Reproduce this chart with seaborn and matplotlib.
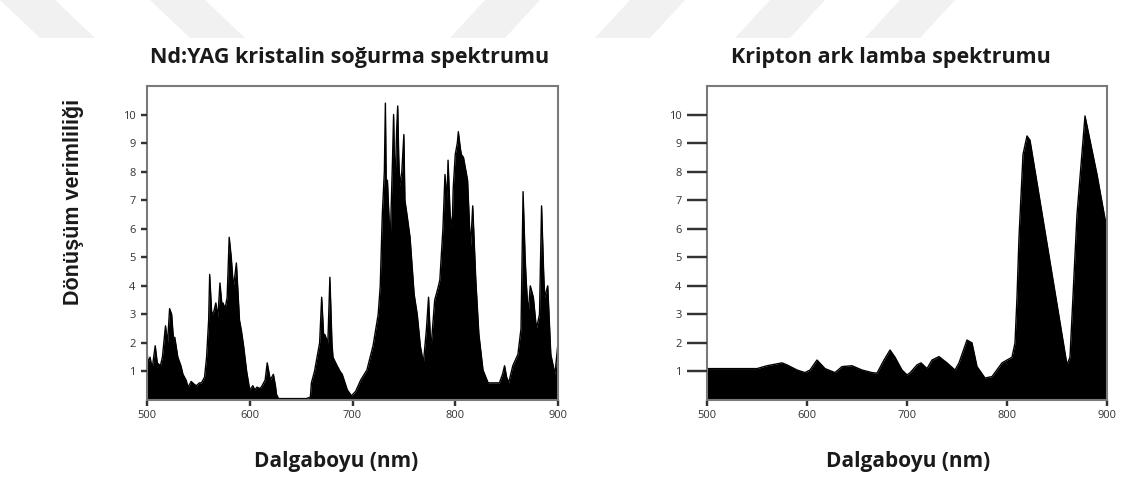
import matplotlib
matplotlib.use("Agg")
import matplotlib.pyplot as plt
from matplotlib.patches import Polygon
from matplotlib.lines import Line2D
from matplotlib.transforms import blended_transform_factory
import seaborn as sns
import pandas as pd

# ---- data: Nd:YAG absorption spectrum ----
nd_wavelength = [500, 501, 503, 505, 508, 510, 513, 515, 518, 520, 522, 524, 526, 527, 530, 533, 535, 538,
                 540, 543, 546, 548, 551, 553, 556, 558, 560, 561, 563, 565, 567, 569, 571, 573, 574, 576,
                 578, 580, 582, 584, 585, 587, 589, 590, 592, 594, 597, 600, 603, 605, 607, 610, 612, 615,
                 617, 619, 620, 623, 625, 626, 628, 640, 655, 659, 660, 663, 665, 668, 670, 672, 673, 676,
                 678, 680, 681, 685, 688, 690, 695, 699, 703, 708, 714, 720, 725, 727, 729, 731, 732, 733,
                 734, 736, 737, 739, 740, 741, 742, 743, 744, 745, 746, 748, 750, 751, 753, 756, 760, 763,
                 766, 769, 772, 774, 776, 777, 780, 783, 785, 788, 790, 792, 793, 795, 797, 798, 800, 802,
                 803, 805, 806, 808, 809, 812, 814, 815, 817, 820, 823, 827, 832, 837, 843, 846, 848, 850,
                 852, 856, 861, 864, 866, 868, 869, 871, 873, 876, 879, 882, 884, 886, 887, 890, 893, 897, 900]
nd_value = [1.7, 1.3, 1.5, 1.1, 1.9, 1.3, 1.2, 1.5, 2.6, 2.0, 3.2, 3.0, 2.0, 2.2, 1.5, 1.2, 0.9, 0.7,
            0.45, 0.65, 0.55, 0.5, 0.6, 0.6, 0.8, 1.5, 2.8, 4.4, 3.0, 3.1, 3.4, 2.9, 4.1, 3.3, 3.4, 3.2,
            3.6, 5.7, 5.0, 4.0, 4.2, 4.8, 3.5, 2.8, 2.4, 1.9, 1.0, 0.35, 0.5, 0.35, 0.45, 0.4, 0.5, 0.7,
            1.3, 0.9, 0.7, 0.9, 0.5, 0.2, 0.05, 0.05, 0.05, 0.1, 0.6, 1.0, 1.4, 2.0, 3.6, 2.2, 2.3, 2.0,
            4.3, 2.0, 1.5, 1.2, 1.0, 0.9, 0.35, 0.15, 0.3, 0.7, 1.05, 1.9, 3.0, 4.0, 6.5, 8.0, 10.4, 7.0,
            7.7, 6.0, 5.9, 8.5, 10.0, 8.0, 8.2, 9.5, 10.3, 8.5, 7.5, 8.0, 9.3, 7.0, 6.5, 5.7, 3.7, 3.0,
            1.9, 1.3, 2.5, 3.6, 2.0, 2.1, 3.5, 3.9, 4.2, 6.0, 7.9, 7.0, 8.4, 6.5, 6.0, 7.4, 8.6, 9.0,
            9.4, 8.8, 8.6, 8.5, 8.3, 7.7, 6.0, 5.4, 6.8, 4.2, 2.3, 1.05, 0.6, 0.6, 0.6, 0.9, 1.2, 0.8,
            0.6, 1.2, 1.6, 2.5, 7.3, 5.0, 4.2, 3.0, 4.0, 3.6, 2.5, 3.0, 6.8, 4.5, 3.6, 4.0, 1.6, 0.9, 2.0]

# ---- data: krypton arc lamp spectrum ----
kr_wavelength = [500, 550, 560, 575, 580, 590, 598, 603, 610, 618, 628, 635, 645, 655, 665, 670, 677, 683,
                 688, 695, 700, 703, 710, 714, 720, 725, 732, 740, 748, 752, 760, 765, 770, 778, 785, 795,
                 805, 808, 810, 812, 816, 820, 823, 860, 863, 870, 878, 890, 898, 900]
kr_value = [1.1, 1.1, 1.2, 1.3, 1.23, 1.05, 0.96, 1.05, 1.4, 1.1, 0.96, 1.17, 1.2, 1.05, 0.96, 0.94, 1.4, 1.75,
            1.5, 1.05, 0.88, 0.95, 1.23, 1.3, 1.1, 1.4, 1.52, 1.3, 1.05, 1.3, 2.1, 2.0, 1.17, 0.77, 0.82, 1.3,
            1.5, 2.0, 3.6, 5.7, 8.6, 9.25, 9.1, 1.23, 1.5, 6.5, 9.95, 7.9, 6.35, 6.2]

titles = ["Nd:YAG kristalin soğurma spektrumu", "Kripton ark lamba spektrumu"]
xlabel = "Dalgaboyu (nm)"
ylabel = "Dönüşüm verimliliği"
x_ticks = [500, 600, 700, 800, 900]
y_ticks = [1, 2, 3, 4, 5, 6, 7, 8, 9, 10]

sns.set_theme(style="ticks")
plt.rcParams['font.family'] = ['Open Sans', 'DejaVu Sans']

W, H = 1134, 482
fig = plt.figure(figsize=(W / 100, H / 100), dpi=100)

def px_axes(l, t, r, b):
    return fig.add_axes([l / W, 1 - b / H, (r - l) / W, (b - t) / H])

# faint watermark bands at the top (figure decoration)
wm_color = "#f1f1f1"
for pts in [[(0, 0), (55, 0), (95, 38), (40, 38)],
            [(150, 0), (205, 0), (245, 38), (190, 38)],
            [(485, 0), (540, 0), (505, 38), (450, 38)],
            [(630, 0), (685, 0), (650, 38), (595, 38)],
            [(770, 0), (825, 0), (790, 38), (735, 38)],
            [(900, 0), (955, 0), (920, 38), (865, 38)]]:
    poly = [(x / W, 1 - y / H) for x, y in pts]
    fig.add_artist(Polygon(poly, closed=True, transform=fig.transFigure,
                           facecolor=wm_color, edgecolor="none", zorder=-1))

# axes boxes in pixels: (left, top, right, bottom)
boxes = [(147, 86, 558, 400), (707, 86, 1107, 400)]
ax1 = px_axes(*boxes[0])
ax2 = px_axes(*boxes[1])

df_nd = pd.DataFrame({"wl": nd_wavelength, "v": nd_value})
df_kr = pd.DataFrame({"wl": kr_wavelength, "v": kr_value})

tick_col = "#333333"
for ax, df, ylen_px, box in [(ax1, df_nd, 6, boxes[0]), (ax2, df_kr, 20, boxes[1])]:
    ax.fill_between(df["wl"], 0, df["v"], color="black", linewidth=0)
    sns.lineplot(data=df, x="wl", y="v", ax=ax, color="black", linewidth=1.0, estimator=None)
    ax.set_xlim(500, 900)
    ax.set_ylim(0, 11)
    ax.set_xticks(x_ticks)
    ax.set_yticks(y_ticks)
    ax.set_xlabel("")
    ax.set_ylabel("")
    for s in ax.spines.values():
        s.set_visible(True)
        s.set_color("#7a7a7a")
        s.set_linewidth(1.5)
    ax.tick_params(axis="y", direction="out", length=ylen_px / 1.389, width=1.6, color=tick_col,
                   labelsize=8, labelcolor="#333333", pad=4, left=True, right=False)
    ax.tick_params(axis="x", direction="out", length=4, width=1.6, color=tick_col,
                   labelsize=8, labelcolor="#333333", pad=3, bottom=True, top=False)
    # tick marks also drawn at figure level, positioned by the axes' data scale
    left, top, right, bottom = box
    ytr = blended_transform_factory(fig.transFigure, ax.transData)
    for yv in y_ticks:
        fig.add_artist(Line2D([(left - ylen_px) / W, (left - 0.5) / W], [yv, yv], transform=ytr,
                              color=tick_col, linewidth=1.6, zorder=10, solid_capstyle="butt"))
    xtr = blended_transform_factory(ax.transData, fig.transFigure)
    for xv in x_ticks:
        fig.add_artist(Line2D([xv, xv], [1 - (bottom + 5.5) / H, 1 - (bottom + 0.5) / H], transform=xtr,
                              color=tick_col, linewidth=1.6, zorder=10, solid_capstyle="butt"))

# titles
fig.text(350 / W, 1 - 57 / H, titles[0], ha="center", va="center",
         fontsize=15.5, fontweight="bold", color="#1a1a1a")
fig.text(891 / W, 1 - 57 / H, titles[1], ha="center", va="center",
         fontsize=15.5, fontweight="bold", color="#1a1a1a")
# x labels
fig.text(336 / W, 1 - 462 / H, xlabel, ha="center", va="center",
         fontsize=15, fontweight="bold", color="#1a1a1a")
fig.text(908 / W, 1 - 462 / H, xlabel, ha="center", va="center",
         fontsize=15, fontweight="bold", color="#1a1a1a")
# y label
fig.text(73 / W, 1 - 202 / H, ylabel, ha="center", va="center", rotation=90,
         fontsize=15.5, fontweight="bold", color="#1a1a1a", family=["Liberation Sans", "DejaVu Sans"])

fig.savefig("out.png", dpi=100, facecolor="white")
